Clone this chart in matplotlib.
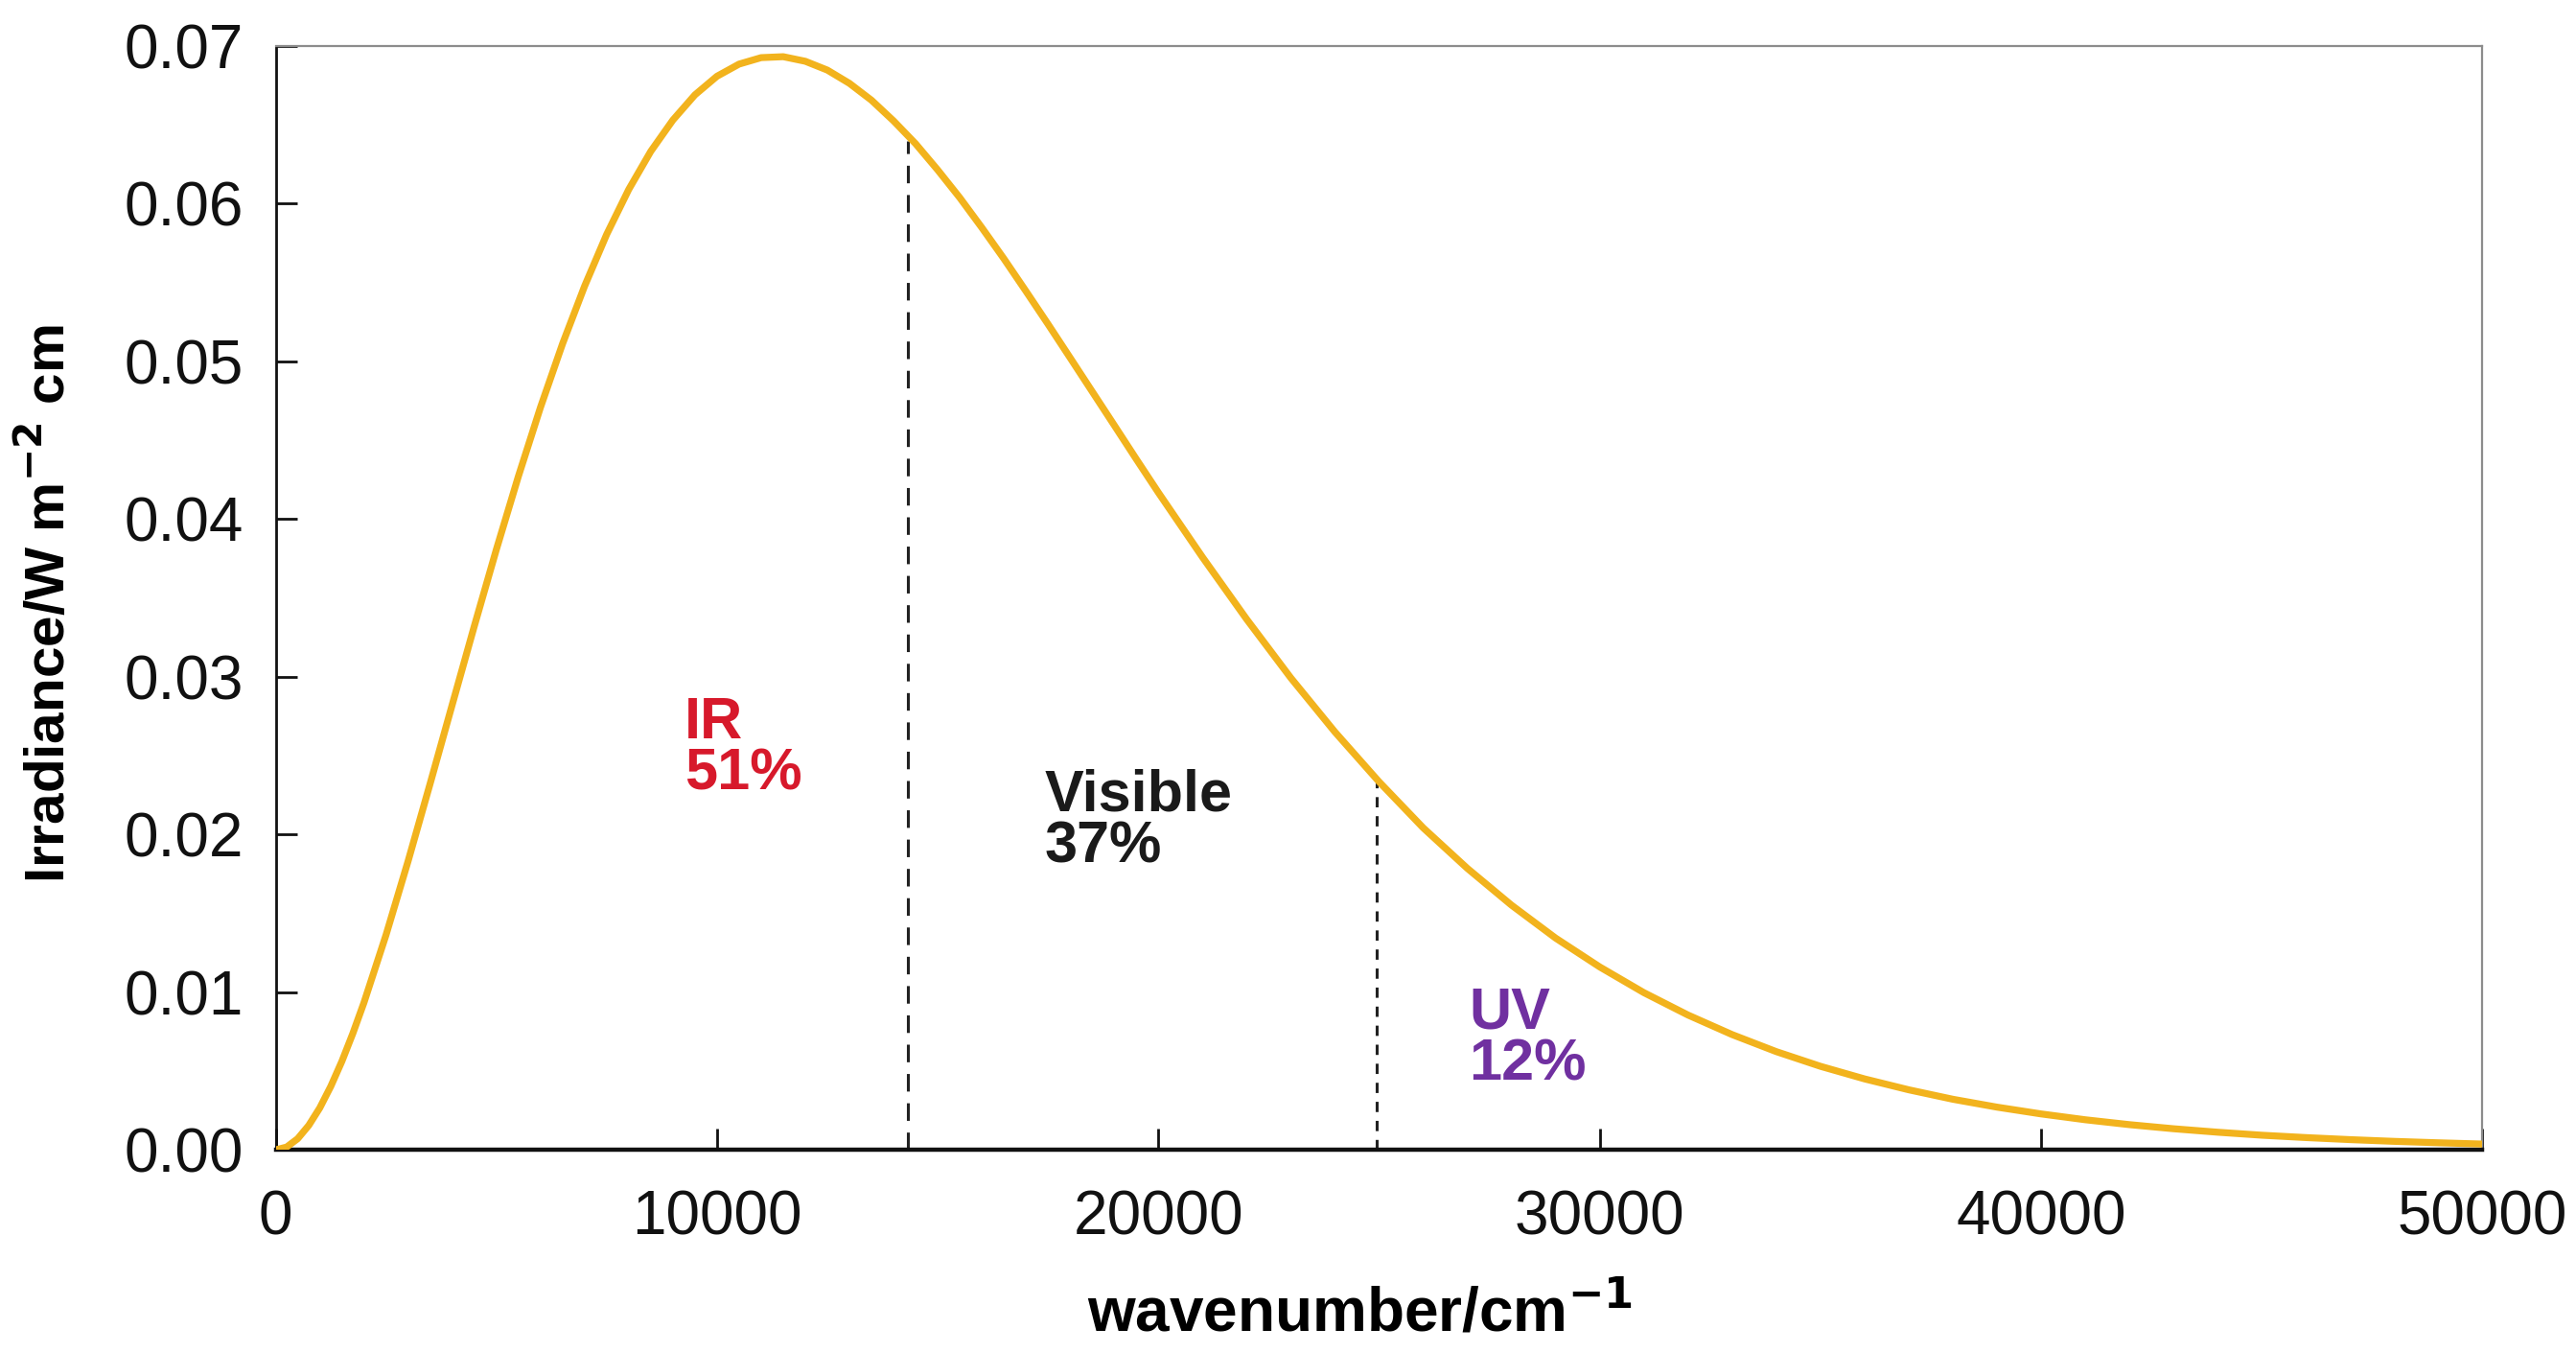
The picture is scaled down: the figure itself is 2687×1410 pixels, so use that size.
import numpy as np
import matplotlib.pyplot as plt

# values
wavenumber = [0, 250, 500, 750, 1000, 1250, 1500, 1750, 2000, 2500, 3000, 3500, 4000,
              4500, 5000, 5500, 6000, 6500, 7000, 7500, 8000, 8500, 9000, 9500,
              10000, 10500, 11000, 11500, 12000, 12500, 13000, 13500, 14000, 14500,
              15000, 15500, 16000, 16500, 17000, 17500, 18000, 18500, 19000, 19500,
              20000, 21000, 22000, 23000, 24000, 25000, 26000, 27000, 28000,
              29000, 30000, 31000, 32000, 33000, 34000, 35000, 36000, 37000, 38000,
              39000, 40000, 41000, 42000, 43000, 44000, 45000, 46000, 47000, 48000,
              49000, 50000]
irradiance = [0.0, 0.00018, 0.00071, 0.00155, 0.00266, 0.00403, 0.00561, 0.00739,
              0.00933, 0.01362, 0.01830, 0.02322, 0.02822, 0.03320, 0.03806, 0.04271,
              0.04708, 0.05111, 0.05477, 0.05805, 0.06090, 0.06332, 0.06530, 0.06690,
              0.06808, 0.06885, 0.06926, 0.06932, 0.06903, 0.06847, 0.06763, 0.06656,
              0.06525, 0.06380, 0.06214, 0.06038, 0.05848, 0.05651, 0.05445, 0.05236,
              0.05023, 0.04809, 0.04595, 0.04380, 0.04168, 0.03758, 0.03365, 0.02993,
              0.02650, 0.02334, 0.02042, 0.01785, 0.01552, 0.01343, 0.01160, 0.00997,
              0.00855, 0.00731, 0.00623, 0.00530, 0.00450, 0.00381, 0.00321, 0.00271,
              0.00228, 0.00191, 0.00160, 0.00134, 0.00112, 0.00093, 0.00078, 0.00065,
              0.00054, 0.00045, 0.00037]

# region boundaries and the curve height there
boundaries = [14330, 24940]
boundary_heights = [0.0640, 0.0233]

regions = ["IR\n51%", "Visible\n37%", "UV\n12%"]
region_x = [9270, 17420, 27030]
region_y = [0.0254, 0.0208, 0.0070]
region_colors = ["#d7192b", "#1a1a1a", "#7030a0"]

x_ticks = [0, 10000, 20000, 30000, 40000, 50000]
y_ticks = [0.00, 0.01, 0.02, 0.03, 0.04, 0.05, 0.06, 0.07]

plt.rcParams['font.family'] = ['Liberation Sans', 'DejaVu Sans']

fig = plt.figure(figsize=(13.435, 7.05), dpi=200)
ax = fig.add_axes([0.107, 0.1495, 0.8567, 0.8165])

ax.plot(wavenumber, irradiance, color="#f2b31d", linewidth=2.6,
        solid_capstyle="round", solid_joinstyle="round", zorder=3)

ax.plot([boundaries[0], boundaries[0]], [0, boundary_heights[0]], color="#222222",
        linewidth=1.1, dashes=(6, 4))
ax.plot([boundaries[1], boundaries[1]], [0, boundary_heights[1]], color="#222222",
        linewidth=1.1, dashes=(3.5, 3))

for label, x, y, c in zip(regions, region_x, region_y, region_colors):
    ax.text(x, y, label, color=c, fontsize=22, fontweight="bold", ha="left",
            va="center", linespacing=0.92)

ax.set_xlim(0, 50000)
ax.set_ylim(0, 0.07)
ax.set_xticks(x_ticks)
ax.set_xticklabels([str(t) for t in x_ticks])
ax.set_yticks(y_ticks)
ax.set_yticklabels([f"{t:.2f}" for t in y_ticks])
ax.tick_params(axis="both", direction="in", length=8, width=1.0, labelsize=23, colors="#111111")
ax.tick_params(axis="x", pad=15)
ax.tick_params(axis="y", pad=12)
ax.tick_params(top=False, right=False)

ax.spines["top"].set_color("#8c8c8c")
ax.spines["right"].set_color("#8c8c8c")
ax.spines["top"].set_linewidth(0.8)
ax.spines["right"].set_linewidth(0.8)
ax.spines["left"].set_color("#111111")
ax.spines["left"].set_linewidth(1.0)
ax.spines["bottom"].set_color("#111111")
ax.spines["bottom"].set_linewidth(1.6)

fig.text(0.019, 0.553, "Irradiance/W m$^{\\mathbf{-2}}$ cm", rotation=90, ha="center", va="center",
         fontsize=21, fontweight="bold")
fig.text(0.528, 0.006, "wavenumber/cm$^{\\mathbf{-1}}$", ha="center", va="bottom",
         fontsize=23, fontweight="bold")

fig.savefig("out.png", dpi=200, facecolor="white")
